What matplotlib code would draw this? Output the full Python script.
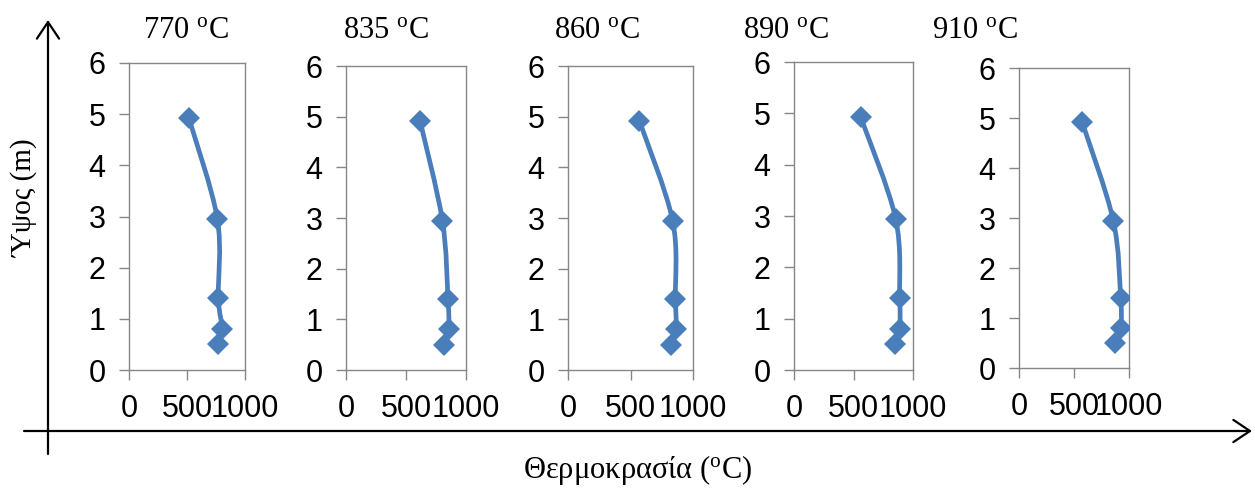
import matplotlib
matplotlib.use("Agg")
import matplotlib.pyplot as plt
from matplotlib.path import Path
from matplotlib.patches import PathPatch

plt.rcParams["mathtext.fontset"] = "custom"
plt.rcParams["mathtext.rm"] = "Liberation Serif"
plt.rcParams["mathtext.it"] = "Liberation Serif:italic"

# Measurement heights (m) and temperature profiles (°C) for each furnace setting
heights = [0.5, 0.8, 1.4, 2.95, 4.92]
setpoints = ["770", "835", "860", "890", "910"]
temps_770 = [770, 804, 770, 762, 517]
temps_835 = [817, 856, 850, 803, 617]
temps_860 = [827, 864, 859, 837, 571]
temps_890 = [851, 888, 888, 854, 562]
temps_910 = [869, 924, 924, 857, 574]
profiles = [temps_770, temps_835, temps_860, temps_890, temps_910]

x_ticks = [0, 500, 1000]
y_ticks = [0, 1, 2, 3, 4, 5, 6]

W, H = 1255, 493
BLUE = "#4A7EBB"
GRID_GREY = "#868686"
SERIF = "Liberation Serif"
SANS = "Liberation Sans"

fig = plt.figure(figsize=(W / 100, H / 100), dpi=100)

# panel boxes in pixels: left, right, top, bottom
boxes = [
    (129, 245, 63, 370),
    (346, 466, 66, 370),
    (568, 693, 66, 370),
    (794, 913, 62, 370),
    (1019, 1129, 68, 368),
]
title_x = [143, 343, 554, 743, 932]


def smooth_path(xs, ys):
    """Bezier path through the points, Catmull-Rom style smoothing."""
    pts = list(zip(xs, ys))
    n = len(pts)
    verts = [pts[0]]
    codes = [Path.MOVETO]
    for i in range(n - 1):
        p0 = pts[i - 1] if i > 0 else pts[i]
        p1 = pts[i]
        p2 = pts[i + 1]
        p3 = pts[i + 2] if i + 2 < n else pts[i + 1]
        c1 = (p1[0] + (p2[0] - p0[0]) / 6, p1[1] + (p2[1] - p0[1]) / 6)
        c2 = (p2[0] - (p3[0] - p1[0]) / 6, p2[1] - (p3[1] - p1[1]) / 6)
        verts += [c1, c2, p2]
        codes += [Path.CURVE4] * 3
    return Path(verts, codes)


for (l, r, t, b), temps, sp, tx in zip(boxes, profiles, setpoints, title_x):
    ax = fig.add_axes([l / W, (H - b) / H, (r - l) / W, (b - t) / H])
    ax.set_xlim(0, 1000)
    ax.set_ylim(0, 6)
    ax.set_xticks(x_ticks)
    ax.set_yticks(y_ticks)
    for s in ax.spines.values():
        s.set_color(GRID_GREY)
        s.set_linewidth(1.0)
    ax.tick_params(axis="both", direction="out", length=7, width=1.0,
                   color=GRID_GREY, labelcolor="black")
    ax.tick_params(axis="y", pad=10)
    ax.tick_params(axis="x", pad=10)
    for lab in ax.get_xticklabels():
        lab.set_fontfamily(SANS)
        lab.set_fontsize(22)
    for lab in ax.get_yticklabels():
        lab.set_fontfamily(SANS)
        lab.set_fontsize(22)

    ax.add_patch(PathPatch(smooth_path(temps, heights), facecolor="none",
                           edgecolor=BLUE, linewidth=3.4, capstyle="round",
                           joinstyle="round", zorder=2))
    ax.plot(temps, heights, linestyle="none", marker="D", markersize=11,
            color=BLUE, markeredgewidth=0, zorder=3)

    fig.text(tx / W, (H - 38) / H, sp + r" $^{\mathrm{o}}$C", fontfamily=SERIF,
             fontsize=22, ha="left", va="baseline")

# overall frame with arrowed axes
ov = fig.add_axes([0, 0, 1, 1], zorder=-1)
ov.set_xlim(0, W)
ov.set_ylim(H, 0)
ov.axis("off")
ov.patch.set_alpha(0)
arrow = dict(arrowstyle="->,head_length=0.6,head_width=0.4", lw=1.6,
             color="black", shrinkA=0, shrinkB=0, mutation_scale=20)
ov.annotate("", xy=(48, 20), xytext=(48, 454), arrowprops=arrow)
ov.annotate("", xy=(1252, 431), xytext=(24, 431), arrowprops=arrow)

fig.text(25 / W, (H - 198) / H, "Ύψος (m)", fontfamily=SERIF, fontsize=21,
         rotation=90, ha="center", va="center")
fig.text(638 / W, (H - 470) / H, r"Θερμοκρασία ($^{\mathrm{o}}$C)",
         fontfamily=SERIF, fontsize=22, ha="center", va="center")

fig.savefig("out.png", dpi=100)
